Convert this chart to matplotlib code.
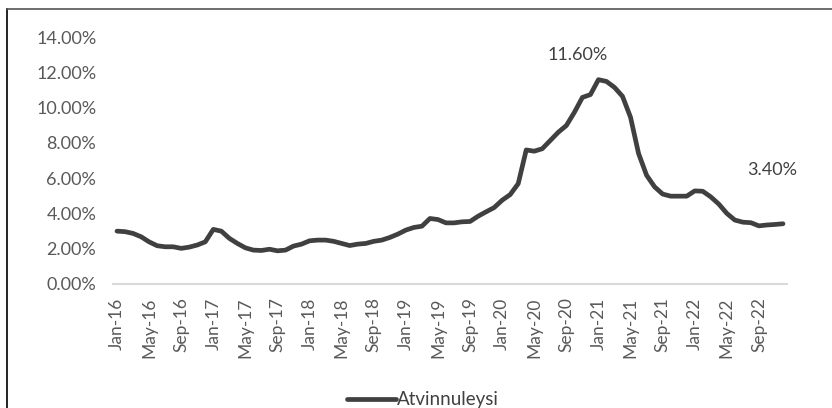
import numpy as np
import pandas as pd
import matplotlib
matplotlib.use('Agg')
import matplotlib.pyplot as plt
from matplotlib.lines import Line2D
from matplotlib.ticker import FuncFormatter

plt.rcParams['font.family'] = ['Lato', 'DejaVu Sans']

# monthly unemployment rate, Jan-16 .. Dec-22 (%)
months = pd.date_range('2016-01-01', '2022-12-01', freq='MS')
unemp = [2.98, 2.95, 2.85, 2.66, 2.37, 2.15, 2.09, 2.09, 2.00, 2.07, 2.19, 2.37,
         3.08, 2.98, 2.57, 2.28, 2.03, 1.90, 1.88, 1.95, 1.86, 1.90, 2.13, 2.24,
         2.43, 2.47, 2.47, 2.40, 2.28, 2.16, 2.24, 2.28, 2.40, 2.47, 2.62, 2.81,
         3.04, 3.19, 3.26, 3.70, 3.64, 3.45, 3.45, 3.51, 3.53, 3.83, 4.08, 4.32,
         4.74, 5.06, 5.68, 7.60, 7.53, 7.67, 8.14, 8.61, 8.99, 9.74, 10.59, 10.75,
         11.60, 11.50, 11.16, 10.65, 9.46, 7.40, 6.16, 5.50, 5.09, 4.97, 4.97, 4.97,
         5.27, 5.25, 4.93, 4.52, 3.99, 3.61, 3.49, 3.46, 3.28, 3.33, 3.36, 3.40]
series_name = 'Atvinnuleysi'
tick_step = 4
peak_idx = 60
last_idx = len(unemp) - 1

x = np.arange(len(unemp))
labels = [d.strftime('%b-%y') for d in months]

fig = plt.figure(figsize=(8.32, 4.08), dpi=100)
ax = fig.add_axes([113/832, 1-283.5/408, 674/832, 246/408])

ax.plot(x, unemp, color='#404040', lw=3.4, solid_joinstyle='round',
        solid_capstyle='round', label=series_name)

ax.set_xlim(-0.5, len(unemp) - 0.5)
ax.set_ylim(0, 14)
ax.set_yticks(np.arange(0, 15, 2))
ax.yaxis.set_major_formatter(FuncFormatter(lambda v, p: '{:.2f}%'.format(v)))
ax.set_xticks(x[::tick_step])
ax.set_xticklabels(labels[::tick_step], rotation=90)
ax.tick_params(axis='x', length=0, pad=10, labelsize=12.5, labelcolor='#595959')
ax.tick_params(axis='y', length=0, pad=12, labelsize=13, labelcolor='#595959')

for s in ['top', 'right', 'left']:
    ax.spines[s].set_visible(False)
ax.spines['bottom'].set_color('#d9d9d9')
ax.spines['bottom'].set_linewidth(1.5)

# data labels
ax.annotate('{:.2f}%'.format(unemp[peak_idx]), (x[peak_idx], unemp[peak_idx]),
            xytext=(-21, 25), textcoords='offset pixels', ha='center', va='center',
            fontsize=13, color='#404040')
ax.annotate('{:.2f}%'.format(unemp[last_idx]), (x[last_idx], unemp[last_idx]),
            xytext=(-11, 54), textcoords='offset pixels', ha='center', va='center',
            fontsize=13, color='#404040')

fig.legend(loc='center', bbox_to_anchor=(423/832, 1-400/408), frameon=False,
           fontsize=13.5, handlelength=2.6, handletextpad=0.1, labelcolor='#404040')

# chart border (top + left only visible)
fig.add_artist(Line2D([7/832, 7/832], [0, 1-9/408], color='black', lw=1.2))
fig.add_artist(Line2D([7/832, 1], [1-9/408, 1-9/408], color='#555555', lw=1.2))

fig.savefig('out.png', dpi=100)
